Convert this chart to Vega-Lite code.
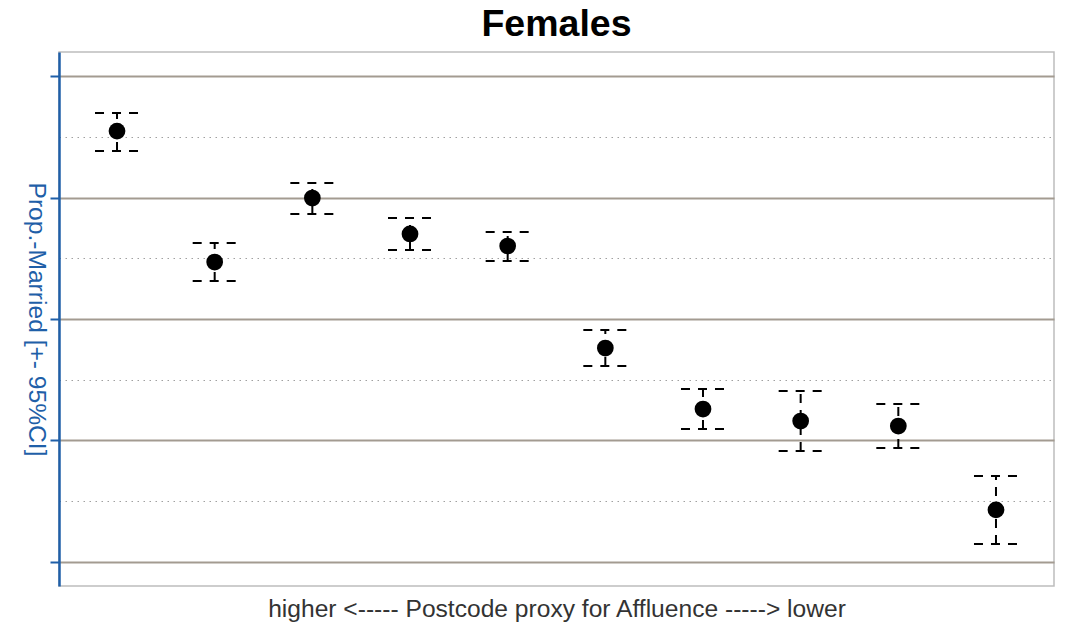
{
  "$schema": "https://vega.github.io/schema/vega-lite/v6.json",
  "width": 995,
  "height": 534,
  "autosize": {"type": "none"},
  "padding": {"left": 59, "top": 52, "right": 11, "bottom": 40},
  "background": "white",
  "config": {
    "font": "Liberation Sans",
    "view": {"stroke": "#bdbdbd", "strokeWidth": 1.5}
  },
  "title": {
    "text": "Females",
    "fontSize": 37.5,
    "fontWeight": "bold",
    "color": "black",
    "anchor": "middle",
    "frame": "group",
    "baseline": "bottom",
    "offset": 6,
    "dy": 35
  },
  "data": {
    "values": [
      {"i": 1, "p": 3.547, "lo": 3.383, "hi": 3.695},
      {"i": 2, "p": 2.469, "lo": 2.313, "hi": 2.626},
      {"i": 3, "p": 2.996, "lo": 2.864, "hi": 3.119},
      {"i": 4, "p": 2.700, "lo": 2.568, "hi": 2.831},
      {"i": 5, "p": 2.601, "lo": 2.477, "hi": 2.716},
      {"i": 6, "p": 1.761, "lo": 1.613, "hi": 1.909},
      {"i": 7, "p": 1.259, "lo": 1.095, "hi": 1.424},
      {"i": 8, "p": 1.160, "lo": 0.914, "hi": 1.407},
      {"i": 9, "p": 1.119, "lo": 0.938, "hi": 1.300},
      {"i": 10, "p": 0.428, "lo": 0.148, "hi": 0.708}
    ]
  },
  "encoding": {
    "x": {
      "field": "i",
      "type": "quantitative",
      "scale": {"domain": [0.406, 10.594], "nice": false, "zero": false},
      "axis": {
        "domain": false, "ticks": false, "labels": false, "grid": false,
        "title": "higher <----- Postcode proxy for Affluence -----> lower",
        "titleFontSize": 24.6, "titleFontWeight": "normal", "titleColor": "#333333",
        "titlePadding": 11, "titleBaseline": "top"
      }
    }
  },
  "layer": [
    {
      "mark": {"type": "rule", "color": "black", "strokeWidth": 2, "strokeDash": [9, 7]},
      "encoding": {
        "y": {
          "field": "lo",
          "type": "quantitative",
          "scale": {"domain": [-0.198, 4.198], "nice": false, "zero": false},
          "axis": {
            "values": [0, 0.5, 1, 1.5, 2, 2.5, 3, 3.5, 4],
            "labels": false,
            "domainColor": "#1f5fa8",
            "domainWidth": 2.5,
            "tickColor": "#1f5fa8",
            "tickWidth": 2,
            "tickSize": 9,
            "tickOpacity": {"condition": {"test": "datum.value % 1 === 0", "value": 1}, "value": 0},
            "grid": true,
            "gridColor": {"condition": {"test": "datum.value % 1 === 0", "value": "#a39b91"}, "value": "#a0a0a0"},
            "gridWidth": {"condition": {"test": "datum.value % 1 === 0", "value": 2}, "value": 1},
            "gridDash": {"condition": {"test": "datum.value % 1 === 0", "value": []}, "value": [1.5, 4.5]},
            "title": "Prop.-Married [+- 95%CI]",
            "titleFontSize": 24.6,
            "titleFontWeight": "normal",
            "titleColor": "#1f5fa8",
            "titleAngle": 90,
            "titleAlign": "center",
            "titleBaseline": "middle",
            "titleX": -24,
            "titleY": 267
          }
        },
        "y2": {"field": "hi"}
      }
    },
    {
      "mark": {"type": "rule", "color": "black", "strokeWidth": 2, "strokeDash": [9, 8], "xOffset": -22, "x2Offset": 22},
      "encoding": {
        "x2": {"field": "i"},
        "y": {"field": "lo", "type": "quantitative"}
      }
    },
    {
      "mark": {"type": "rule", "color": "black", "strokeWidth": 2, "strokeDash": [9, 8], "xOffset": -22, "x2Offset": 22},
      "encoding": {
        "x2": {"field": "i"},
        "y": {"field": "hi", "type": "quantitative"}
      }
    },
    {
      "mark": {"type": "circle", "color": "black", "opacity": 1, "size": 280},
      "encoding": {
        "y": {"field": "p", "type": "quantitative"}
      }
    }
  ]
}
